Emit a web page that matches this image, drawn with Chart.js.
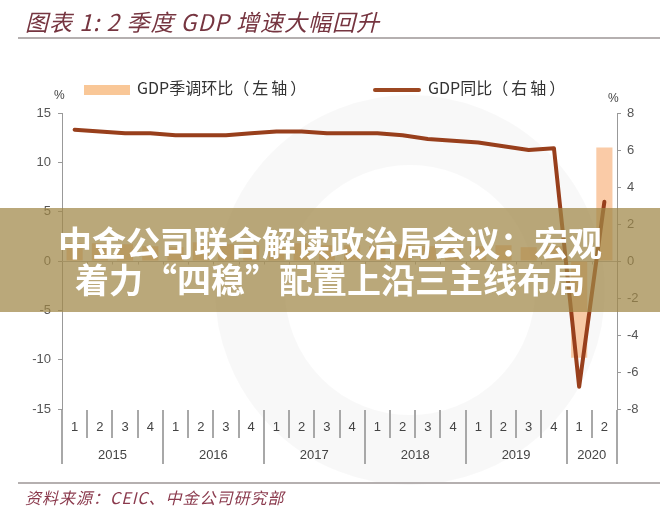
<!DOCTYPE html>
<html>
<head>
<meta charset="utf-8">
<script src="https://cdn.jsdelivr.net/npm/chart.js@4.4.0/dist/chart.umd.min.js"></script>
<style>
  body { margin: 0; background: #fff; }
  #wrap { position: relative; width: 660px; height: 520px; overflow: hidden;
          font-family: "Noto Sans CJK SC", "Noto Sans", sans-serif; }
  canvas { position: absolute; left: 0; top: 0; }
  .ring { position: absolute; left: 215px; top: 95px; width: 250px; height: 250px; border-radius: 50%;
          border: 70px solid rgba(0,0,0,0.028); }
  .title { position: absolute; left: 25px; top: 4px; font-size: 23px; font-style: italic;
           color: #763540; letter-spacing: 1px; white-space: nowrap; }
  .rule { position: absolute; left: 18px; right: 0; height: 2px; background: #b5b0b0; }
  .src { position: absolute; left: 25px; top: 485px; font-size: 16px; font-style: italic;
         color: #8b3a4d; letter-spacing: 1px; white-space: nowrap; }
  .leg { position: absolute; top: 75px; font-size: 16px; color: #333; white-space: nowrap; }
  .leg i { font-style: normal; letter-spacing: 3px; }
  .unit { position: absolute; font-size: 12px; color: #444; font-family: "Liberation Sans", Arial, sans-serif; }
  .band { position: absolute; left: 0; top: 208px; width: 660px; height: 104px;
          background: rgba(160,135,70,0.72); }
  .band div { position: absolute; left: 0; width: 660px; text-align: center; color: #fff;
              font-weight: bold; font-size: 34px; white-space: nowrap; line-height: 37px; }
</style>
</head>
<body>
<div id="wrap">
  <div class="ring"></div>
  <canvas id="myChart" width="660" height="520"></canvas>
  <div class="title">图表 1: 2 季度 GDP 增速大幅回升</div>
  <div class="rule" style="top:37px"></div>
  <div class="leg" style="left:84px"><span style="display:inline-block;width:46px;height:10px;background:#f9c797;vertical-align:middle;margin-right:7px"></span>GDP季调环比<i>（左轴）</i></div>
  <div class="leg" style="left:373px"><span style="display:inline-block;width:48px;height:4px;background:#9c4721;vertical-align:middle;margin-right:7px;border-radius:2px"></span>GDP同比<i>（右轴）</i></div>
  <div class="unit" style="left:54px;top:88px">%</div>
  <div class="unit" style="left:608px;top:91px">%</div>
  <div class="band">
    <div style="top:15px">中金公司联合解读政治局会议：宏观</div>
    <div style="top:52px">着力“四稳”配置上沿三主线布局</div>
  </div>
  <div class="rule" style="top:482px"></div>
  <div class="src">资料来源：CEIC、中金公司研究部</div>
</div>
<script>
var quarters = ['1','2','3','4','1','2','3','4','1','2','3','4','1','2','3','4','1','2','3','4','1','2'];
var years = ['2015','2016','2017','2018','2019','2020'];
var yearLengths = [4, 4, 4, 4, 4, 2];
// GDP季调环比 (left axis, %)
var gdpQoQ = [1.8, 1.8, 1.7, 1.5, 1.4, 1.9, 1.7, 1.6, 1.5, 1.8, 1.6, 1.6,
              1.5, 1.7, 1.5, 1.5, 1.5, 1.6, 1.4, 1.5, -9.8, 11.5];
// GDP同比 (right axis, %)
var gdpYoY = [7.1, 7.0, 6.9, 6.9, 6.8, 6.8, 6.8, 6.9, 7.0, 7.0, 6.9, 6.9,
              6.9, 6.8, 6.6, 6.5, 6.4, 6.2, 6.0, 6.1, -6.8, 3.2];
var leftTicks = { min: -15, max: 15, step: 5 };
var rightTicks = { min: -8, max: 8, step: 2 };

var axisFont = { family: 'Liberation Sans, Arial, sans-serif', size: 13 };

// zero line, quarter / year separators and year labels
var axisDeco = {
  id: 'axisDeco',
  beforeDatasetsDraw: function(chart) {
    var c = chart.ctx, x = chart.scales.x, y = chart.scales.y;
    var y0 = Math.round(y.getPixelForValue(0)) + 0.5;
    var half = (x.getPixelForValue(1) - x.getPixelForValue(0)) / 2;
    c.save();
    c.strokeStyle = '#b0b0b0';
    c.lineWidth = 1;
    c.beginPath();
    c.moveTo(chart.chartArea.left, y0);
    c.lineTo(chart.chartArea.right, y0);
    for (var i = 1; i < quarters.length; i++) {
      var bx = Math.round(x.getPixelForValue(i) - half) + 0.5;
      c.moveTo(bx, y0);
      c.lineTo(bx, y0 + 3);
    }
    c.stroke();
    c.restore();
  },
  afterDraw: function(chart) {
    var c = chart.ctx, x = chart.scales.x;
    var half = (x.getPixelForValue(1) - x.getPixelForValue(0)) / 2;
    var top = chart.chartArea.bottom + 1;
    var starts = [0];
    yearLengths.forEach(function(n, k) { starts.push(starts[k] + n); });
    c.save();
    c.strokeStyle = '#a8a8a8';
    c.lineWidth = 2;
    for (var i = 0; i <= quarters.length; i++) {
      var bx = Math.round(x.getPixelForValue(i) - half);
      var isYear = starts.indexOf(i) >= 0;
      c.beginPath();
      c.moveTo(bx, top);
      c.lineTo(bx, isYear ? top + 54 : top + 28);
      c.stroke();
    }
    c.fillStyle = '#444';
    c.font = '13px Liberation Sans, Arial, sans-serif';
    c.textAlign = 'center';
    c.textBaseline = 'middle';
    years.forEach(function(yr, k) {
      var mid = (x.getPixelForValue(starts[k]) + x.getPixelForValue(starts[k + 1] - 1)) / 2;
      c.fillText(yr, mid, top + 45);
    });
    c.restore();
  }
};

var ctx = document.getElementById('myChart');
var myChart = new Chart(ctx, {
  type: 'bar',
  data: {
    labels: quarters,
    datasets: [{
      type: 'line',
      label: 'GDP同比（右轴）',
      data: gdpYoY,
      yAxisID: 'y1',
      borderColor: '#983f1c',
      borderWidth: 4,
      borderCapStyle: 'round',
      borderJoinStyle: 'round',
      pointRadius: 0,
      tension: 0,
      order: 1
    }, {
      label: 'GDP季调环比（左轴）',
      data: gdpQoQ,
      yAxisID: 'y',
      backgroundColor: 'rgba(248,186,138,0.75)',
      barPercentage: 0.64,
      categoryPercentage: 1,
      order: 2
    }]
  },
  options: {
    responsive: false,
    animation: false,
    layout: { padding: { top: 113, left: 0, right: 0, bottom: 0 } },
    plugins: { legend: { display: false }, tooltip: { enabled: false } },
    scales: {
      x: {
        grid: { display: false, drawTicks: false },
        border: { display: false },
        ticks: { color: '#444', font: axisFont, padding: 11, maxRotation: 0, autoSkip: false },
        afterFit: function(s) { s.height = 111; }
      },
      y: {
        position: 'left',
        min: leftTicks.min, max: leftTicks.max,
        ticks: { stepSize: leftTicks.step, color: '#555', font: axisFont, padding: 7 },
        grid: { drawOnChartArea: false, tickLength: 4, color: '#999' },
        border: { color: '#999' },
        afterFit: function(s) { s.width = 62; }
      },
      y1: {
        position: 'right',
        min: rightTicks.min, max: rightTicks.max,
        ticks: { stepSize: rightTicks.step, color: '#555', font: axisFont, padding: 6 },
        grid: { drawOnChartArea: false, tickLength: 4, color: '#999' },
        border: { color: '#999' },
        afterFit: function(s) { s.width = 43; }
      }
    }
  },
  plugins: [axisDeco]
});
</script>
</body>
</html>
